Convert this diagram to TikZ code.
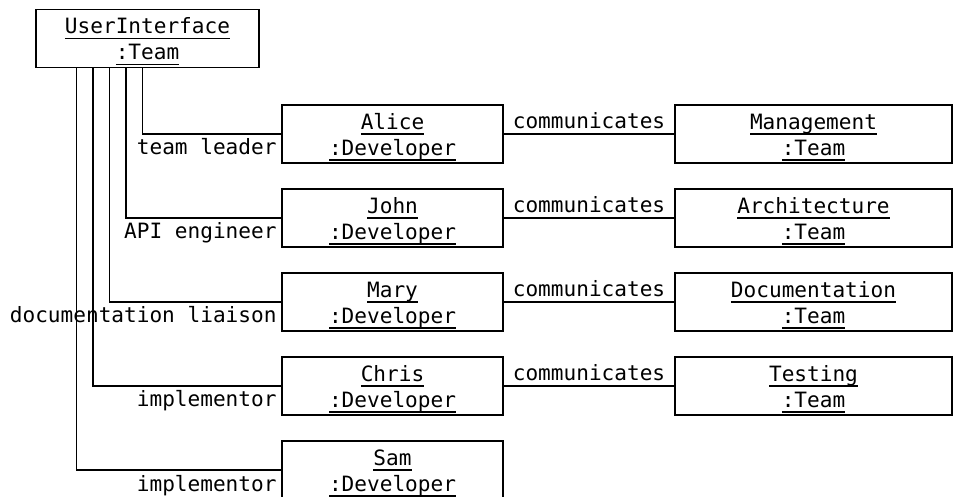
\documentclass[tikz,border=0pt]{standalone}
\usepackage{fontspec}
\setmonofont{DejaVu Sans Mono}
\usetikzlibrary{positioning, calc, math}

\newcommand{\ulname}[1]{\leavevmode\setbox0\hbox{#1}\rlap{\rule[-3.8pt]{\wd0}{0.9pt}}\box0}

\tikzset{
  objbox/.style={draw, line width=0.9pt, inner sep=0pt, minimum height=1.45cm,
    text width=#1, align=center, text height=11.5pt, text depth=18.2pt},
  link/.style={line width=0.9pt},
  role/.style={anchor=north east, inner sep=3pt},
  says/.style={above, inner sep=3pt}
}

\begin{document}
\begin{tikzpicture}[font=\ttfamily\fontsize{15}{18.5}\selectfont]
\tikzmath{
\devx=9.8125;
\teamx=20.3375;
\rowtop=-3.35;
\dy=2.1;
\stem=0.4125;
}
\useasboundingbox (0,0) rectangle (23.825,-12.4);

\node[objbox=5.575cm] (userinterface) at (3.6875,-0.96) {\ulname{UserInterface}\\\ulname{:Team}};

% developers
\node[objbox=5.525cm] (alice) at (\devx,\rowtop) {\ulname{Alice}\\\ulname{:Developer}};
\node[objbox=5.525cm] (john) at (\devx,\rowtop-\dy) {\ulname{John}\\\ulname{:Developer}};
\node[objbox=5.525cm] (mary) at (\devx,\rowtop-2*\dy) {\ulname{Mary}\\\ulname{:Developer}};
\node[objbox=5.525cm] (chris) at (\devx,\rowtop-3*\dy) {\ulname{Chris}\\\ulname{:Developer}};
\node[objbox=5.525cm] (sam) at (\devx,\rowtop-4*\dy) {\ulname{Sam}\\\ulname{:Developer}};

% other teams
\node[objbox=6.925cm] (management) at (\teamx,\rowtop) {\ulname{Management}\\\ulname{:Team}};
\node[objbox=6.925cm] (architecture) at (\teamx,\rowtop-\dy) {\ulname{Architecture}\\\ulname{:Team}};
\node[objbox=6.925cm] (documentation) at (\teamx,\rowtop-2*\dy) {\ulname{Documentation}\\\ulname{:Team}};
\node[objbox=6.925cm] (testing) at (\teamx,\rowtop-3*\dy) {\ulname{Testing}\\\ulname{:Team}};

% roles
\coordinate (s1) at ($(userinterface.south west)+(1.025,0)$);
\coordinate (s2) at ($(s1)+(\stem,0)$);
\coordinate (s3) at ($(s1)+(2*\stem,0)$);
\coordinate (s4) at ($(s1)+(3*\stem,0)$);
\coordinate (s5) at ($(s1)+(4*\stem,0)$);

\draw[link] (s5) |- (alice.west) node[role] {team leader};
\draw[link] (s4) |- (john.west) node[role] {API engineer};
\draw[link] (s3) |- (mary.west) node[role] {documentation liaison};
\draw[link] (s2) |- (chris.west) node[role] {implementor};
\draw[link] (s1) |- (sam.west) node[role] {implementor};

\draw[link] (alice) -- node[says] {communicates} (management);
\draw[link] (john) -- node[says] {communicates} (architecture);
\draw[link] (mary) -- node[says] {communicates} (documentation);
\draw[link] (chris) -- node[says] {communicates} (testing);
\end{tikzpicture}
\end{document}
